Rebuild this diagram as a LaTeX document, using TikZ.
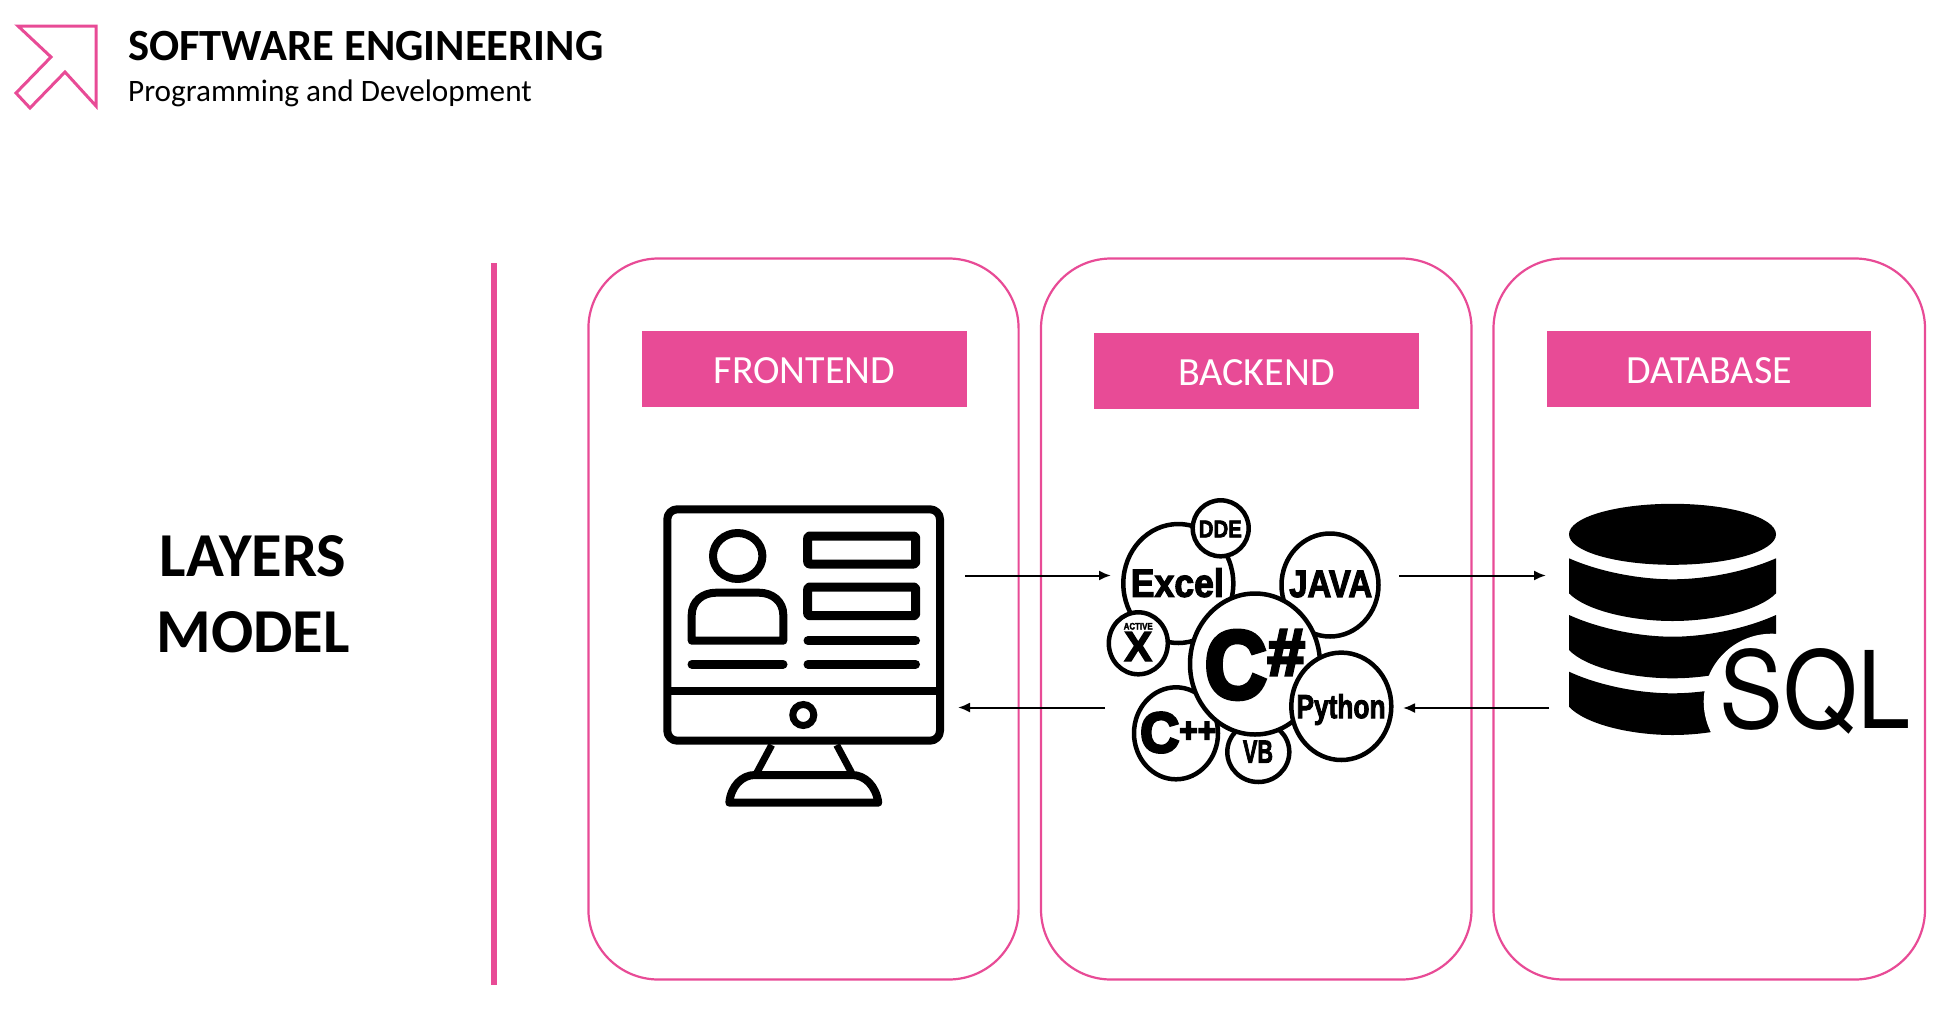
\documentclass[tikz,border=0pt]{standalone}
\usepackage{fontspec}
\setmainfont{Carlito}
\newfontfamily\logofont[BoldFeatures={FakeBold=3}]{Liberation Sans}
\newfontfamily\heavyfont[BoldFeatures={FakeBold=5}]{Liberation Sans}
\newfontfamily\sqlfont{TeX Gyre Heros}
\usetikzlibrary{arrows.meta}
\definecolor{brandpink}{HTML}{E84B96}
\newcommand{\fitbox}[3]{\resizebox*{#1pt}{#2pt}{#3}}
\newcommand{\lbl}[1]{\raisebox{-14.7pt}[0pt][0pt]{#1}}
\tikzset{
  x=1pt,y=-1pt,
  card/.style={draw=brandpink,line width=2.2pt,rounded corners=70pt,fill=white},
  label/.style={fill=brandpink,text=white,font=\fontsize{40}{44}\selectfont,inner sep=0pt,minimum width=324.5pt,minimum height=76pt},
  bubble/.style={draw=black,line width=4.5pt,fill=white},
  iconline/.style={draw=black,line width=8pt,line cap=round,line join=round},
  flow/.style={draw=black,line width=2pt,-{Latex[length=12pt,width=10pt]}},
  logotext/.style={inner sep=0pt,font=\logofont\bfseries},
  heavytext/.style={inner sep=0pt,font=\heavyfont\bfseries},
  dbpart/.style={fill=black,draw=none}
}
\begin{document}
\begin{tikzpicture}
\useasboundingbox (0,0) rectangle (1955,1018);
% header
\draw[brandpink,line width=3pt,miter limit=10] (18,26) -- (96,26) -- (96,106) -- (65,72) -- (30,108) -- (16,93) -- (51,57) -- cycle;
\node[anchor=west,inner sep=0pt,font=\fontsize{44.6}{48}\selectfont\bfseries] (title) at (128,46.5) {SOFTWARE ENGINEERING};
\node[anchor=west,inner sep=0pt,font=\fontsize{31.2}{34}\selectfont] (subtitle) at (128,93.5) {Programming and Development};
% left
\node[font=\fontsize{62.5}{75.5}\selectfont\bfseries,align=center,inner sep=0pt] (layers) at (253,594) {LAYERS\\MODEL};
\fill[brandpink] (490.5,263) rectangle (497,985);
% cards
\draw[card] (588.4,258.5) rectangle (1018.6,979.5);
\draw[card] (1041,258.5) rectangle (1471.5,979.5);
\draw[card] (1493.5,258.5) rectangle (1925,979.5);
\node[label] (front) at (804.5,368.5) {\lbl{FRONTEND}};
\node[label] (back) at (1256.5,371) {\lbl{BACKEND}};
\node[label] (data) at (1709,368.5) {\lbl{DATABASE}};
% monitor
\draw[iconline,rounded corners=10pt] (667.3,509.3) rectangle (940,740.7);
\draw[iconline,line cap=butt] (667.3,691.3) -- (940,691.3);
\draw[black,line width=7pt] (803.3,715) circle (10.5);
\draw[iconline] (737.7,556) ellipse (24.7 and 23);
\draw[iconline] (691.7,640.7) -- (691.7,615) .. controls (691.7,601) and (703,592.7) .. (716,592.7) -- (759,592.7) .. controls (772,592.7) and (783.3,601) .. (783.3,615) -- (783.3,640.7) -- cycle;
\draw[iconline,line width=9pt,rounded corners=2pt] (807.7,536) rectangle (915.7,564);
\draw[iconline,line width=9pt,rounded corners=2pt] (807.7,587) rectangle (915.7,615.7);
\draw[iconline,line width=9pt] (808,640.7) -- (915.5,640.7);
\draw[iconline,line width=9pt] (808,664.3) -- (915.5,664.3);
\draw[iconline,line width=9pt] (692,664.3) -- (783,664.3);
\draw[iconline,line width=7pt,line cap=butt] (771.7,745) -- (756.7,773);
\draw[iconline,line width=7pt,line cap=butt] (836.7,745) -- (851.7,773);
\draw[iconline] (729.3,802.7) .. controls (731,786) and (742,775) .. (755,775) -- (852,775) .. controls (865,775) and (876,786) .. (878.3,802.7) -- cycle;
% bubbles
\draw[bubble] (1178.3,583.5) ellipse (55 and 59.5);
\draw[bubble] (1220.7,528.3) circle (28);
\draw[bubble] (1138.3,643.3) ellipse (29.5 and 31);
\draw[bubble] (1330,585) ellipse (48.5 and 51.5);
\draw[bubble] (1176,733.3) ellipse (42 and 46);
\draw[bubble] (1258.3,752) ellipse (31 and 30);
\draw[bubble] (1255,664) ellipse (65 and 70.5);
\draw[bubble] (1341.3,706.3) ellipse (50 and 53.7);
\node[logotext] (excel) at (1177.3,582.7) {\fitbox{93}{29}{Excel}};
\node[logotext] (dde) at (1220.3,529) {\fitbox{43}{16.7}{DDE}};
\node[logotext] (java) at (1330.7,584) {\fitbox{83}{26.7}{JAVA}};
\node[inner sep=0pt,align=center,font={\logofont\bfseries\setlength{\baselineskip}{1pt}}] (activex) at (1138.2,642) {\fitbox{29}{6.7}{ACTIVE}\\[1.5pt]\fitbox{28}{29}{X}};
\node[heavytext,anchor=base west] (csharp) at (1204.5,698) {\fitbox{62}{68}{C}\hspace{1pt}\raisebox{23pt}{\fitbox{37}{45}{\#}}};
\node[heavytext,anchor=base west] (cpp) at (1140,752) {\fitbox{39}{40}{C}\raisebox{10pt}{\fitbox{37}{20}{++}}};
\node[logotext] (vb) at (1258,751.7) {\fitbox{30}{22}{VB}};
\node[logotext] (python) at (1341,709.5) {\fitbox{89}{31}{Python}};
% database
\fill[dbpart] (1672.5,534.3) ellipse (103.5 and 30.5);
\fill[dbpart] (1569,558.3) .. controls (1600,572) and (1640,579.3) .. (1672.5,579.3) .. controls (1705,579.3) and (1745,572) .. (1776,558.3) -- (1776,593.3) .. controls (1760,610) and (1715,621) .. (1672.5,621) .. controls (1630,621) and (1585,610) .. (1569,593.3) -- cycle;
\fill[dbpart] (1569,615) .. controls (1600,629) and (1640,636.7) .. (1672.5,636.7) .. controls (1705,636.7) and (1745,629) .. (1776,615) -- (1776,650) .. controls (1760,667) and (1715,678.3) .. (1672.5,678.3) .. controls (1630,678.3) and (1585,667) .. (1569,650) -- cycle;
\fill[dbpart] (1569,671.7) .. controls (1600,686) and (1640,693.3) .. (1672.5,693.3) .. controls (1705,693.3) and (1745,686) .. (1776,671.7) -- (1776,706.7) .. controls (1760,724) and (1715,735) .. (1672.5,735) .. controls (1630,735) and (1585,724) .. (1569,706.7) -- cycle;
\fill[white] (1771.7,701.7) circle (68);
\node[inner sep=0pt,font=\sqlfont,anchor=base] (sql) at (1815,728) {\resizebox{191pt}{80pt}{SQL}};
% flows
\coordinate (f1a) at (965,575.5); \coordinate (f1b) at (1111,575.5);
\coordinate (f2a) at (1105,707.5); \coordinate (f2b) at (958,707.5);
\coordinate (f3a) at (1399,575.5); \coordinate (f3b) at (1546,575.5);
\coordinate (f4a) at (1549,708); \coordinate (f4b) at (1403,708);
\draw[flow] (f1a) -- (f1b);
\draw[flow] (f2a) -- (f2b);
\draw[flow] (f3a) -- (f3b);
\draw[flow] (f4a) -- (f4b);
\end{tikzpicture}
\end{document}
